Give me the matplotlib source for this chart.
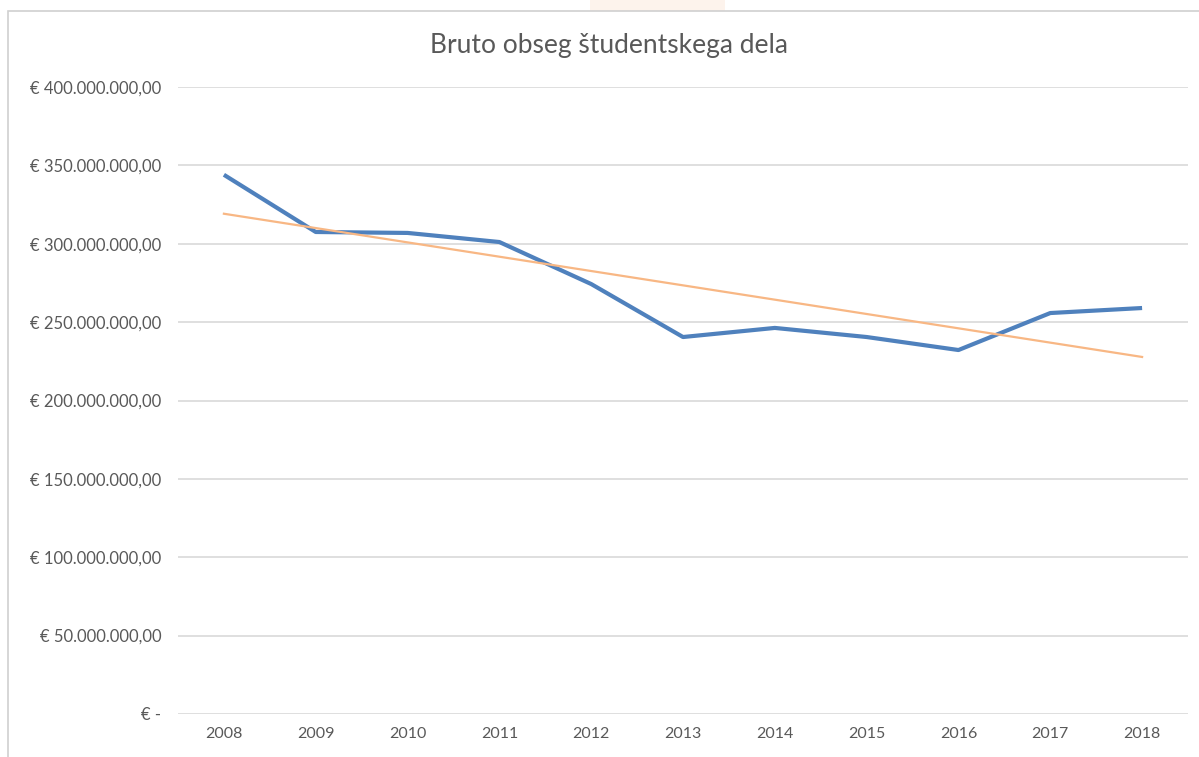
import numpy as np
import matplotlib.pyplot as plt
import matplotlib as mpl
from matplotlib.patches import Rectangle

mpl.rcParams["font.family"] = ["Lato", "DejaVu Sans"]

years = ["2008", "2009", "2010", "2011", "2012", "2013", "2014", "2015", "2016", "2017", "2018"]
bruto = [344.0e6, 307.5e6, 306.9e6, 301.1e6, 274.3e6, 240.5e6, 246.3e6, 240.5e6, 232.2e6, 255.8e6, 259.0e6]
yticks = [0, 50e6, 100e6, 150e6, 200e6, 250e6, 300e6, 350e6, 400e6]
ytick_labels = ["€ -", "€ 50.000.000,00", "€ 100.000.000,00", "€ 150.000.000,00",
                "€ 200.000.000,00", "€ 250.000.000,00", "€ 300.000.000,00",
                "€ 350.000.000,00", "€ 400.000.000,00"]

TEXT = "#595959"
GRID = "#D9D9D9"

fig = plt.figure(figsize=(11.99, 7.57), dpi=100)
fig.patch.set_facecolor("white")

# chart area border + faint background bits
fig.patches.append(Rectangle((590 / 1199, 1 - 11 / 757), 135 / 1199, 11 / 757,
                             transform=fig.transFigure, facecolor="#FDF3EC", edgecolor="none", zorder=0))
fig.patches.append(Rectangle((8 / 1199, -0.05), 1.1, 1.05 - 11 / 757,
                             transform=fig.transFigure, facecolor="none", edgecolor="#D0D0D0", lw=1.2, zorder=1))

ax = fig.add_axes([178 / 1199, 1 - 714 / 757, 1010 / 1199, 627 / 757])
x = np.arange(len(years))

# linear trendline (as in Excel)
k, b = np.polyfit(x, bruto, 1)
ax.plot(x, bruto, color="#4F81BD", lw=3.0, solid_capstyle="butt", zorder=3)
ax.plot(x, k * x + b, color="#F8B784", lw=1.6, zorder=4)

ax.set_xlim(-0.5, len(years) - 0.5)
ax.set_ylim(0, 400e6)
ax.set_yticks(yticks)
ax.set_yticklabels(ytick_labels)
ax.set_xticks(x)
ax.set_xticklabels(years)
ax.tick_params(axis="both", length=0, colors=TEXT, labelsize=11.5)
ax.tick_params(axis="y", pad=12, labelsize=12)
ax.tick_params(axis="x", pad=9)
ax.grid(axis="y", color=GRID, lw=1.2)
ax.set_axisbelow(True)
for s in ax.spines.values():
    s.set_visible(False)

fig.text(609 / 1199, 1 - 45 / 757, "Bruto obseg študentskega dela", ha="center", va="center",
         fontsize=19, color=TEXT)

plt.savefig("out.png", dpi=100)
